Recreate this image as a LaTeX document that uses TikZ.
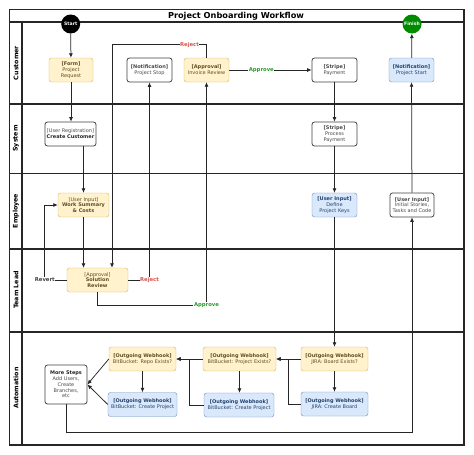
\documentclass[tikz,border=0pt]{standalone}
\usepackage{fontspec}
\setmainfont{DejaVu Sans}
\usetikzlibrary{arrows, arrows.meta}
\definecolor{ylwfill}{HTML}{FFF2CC}
\definecolor{ylwline}{HTML}{D6B656}
\definecolor{ylwtext}{HTML}{5E4E22}
\definecolor{bluefill}{HTML}{DAE8FC}
\definecolor{blueline}{HTML}{6C8EBF}
\definecolor{bluetext}{HTML}{23436F}
\definecolor{greytext}{HTML}{4A4A4A}
\definecolor{rejectred}{HTML}{D9534F}
\definecolor{approvegreen}{HTML}{2E9B2E}
\definecolor{finishgreen}{HTML}{008A00}

\begin{document}
\begin{tikzpicture}[x=1pt, y=-1pt,
		box/.style={rounded corners=2.5pt, align=center, inner sep=1pt, minimum height=24pt, font=\fontsize{5}{5.8}\selectfont},
		yellowbox/.style={box, fill=ylwfill, draw=ylwline, text=ylwtext, minimum width=44pt},
		bluebox/.style={box, fill=bluefill, draw=blueline, text=bluetext, minimum width=45pt},
		whitebox/.style={box, fill=white, draw=black!75, line width=0.8pt, text=greytext, minimum width=45pt},
		lane/.style={rotate=90, font=\fontsize{6.3}{7}\selectfont\bfseries},
		border/.style={line width=1.1pt, black!85},
		flow/.style={-{Latex[length=4.5pt, width=4pt]}, draw=black!85, line width=0.75pt},
		lbl/.style={fill=white, inner sep=0.6pt, font=\fontsize{5.3}{6}\selectfont\bfseries}]
		\useasboundingbox (0,0) rectangle (474,455);
		\draw[border] (9.5,9.5) rectangle (464,445);
		\draw[border] (9.5,22) -- (464,22);
		\draw[border] (22,22) -- (22,445);
		\foreach \y in {104,173.5,249,332}
			\draw[border] (9.5,\y) -- (464,\y);
		\node[font=\fontsize{8.2}{10}\selectfont\bfseries] (title) at (236,16) {Project Onboarding Workflow};
		\node[lane] (lcustomer) at (16,63) {Customer};
		\node[lane] (lsystem) at (16,138.5) {System};
		\node[lane] (lemployee) at (16,211) {Employee};
		\node[lane] (lteamlead) at (16,290) {Team Lead};
		\node[lane] (lautomation) at (16,388) {Automation};

		\node[circle, fill=black, minimum size=19pt, inner sep=0pt, text=white, font=\fontsize{4.6}{5}\selectfont\bfseries] (start) at (70.7,24) {Start};
		\node[circle, fill=finishgreen, minimum size=19pt, inner sep=0pt, text=white, font=\fontsize{4.6}{5}\selectfont\bfseries] (finish) at (412,24) {Finish};

		\node[yellowbox] (form) at (71,70) {\textbf{[Form]}\\Project\\Request};
		\node[whitebox] (projstop) at (149.5,70) {\textbf{[Notification]}\\Project Stop};
		\node[yellowbox, minimum width=45pt] (invoice) at (206.5,70) {\textbf{[Approval]}\\Invoice Review};
		\node[whitebox] (payment) at (334.5,70) {\textbf{[Stripe]}\\Payment};
		\node[bluebox] (projstart) at (411.5,70) {\textbf{[Notification]}\\Project Start};

		\node[whitebox, minimum width=51pt] (createcust) at (70.5,134) {[User Registration]\\\textbf{\color{black!85}Create Customer}};
		\node[whitebox] (procpay) at (334.5,134) {\textbf{[Stripe]}\\Process\\Payment};

		\node[yellowbox, minimum width=51pt] (worksum) at (83.5,205) {[User Input]\\\textbf{Work Summary}\\\textbf{\& Costs}};
		\node[bluebox] (defkeys) at (334.5,205) {\textbf{[User Input]}\\Define\\Project Keys};
		\node[whitebox, minimum width=44pt] (stories) at (412,205) {\textbf{[User Input]}\\Initial Stories,\\Tasks and Code};

		\node[yellowbox, minimum width=61pt] (solrev) at (97.5,280) {[Approval]\\\textbf{Solution}\\\textbf{Review}};

		\node[whitebox, minimum width=42pt, minimum height=39pt] (moresteps) at (66,384.5) {\textbf{\color{black!85}More Steps}\\Add Users,\\Create\\Branches,\\etc};
		\node[yellowbox, minimum width=67pt] (repoexists) at (142.5,359) {\textbf{[Outgoing Webhook]}\\BitBucket: Repo Exists?};
		\node[bluebox, minimum width=69pt] (bbcreate) at (142.5,404.5) {\textbf{[Outgoing Webhook]}\\BitBucket: Create Project};
		\node[yellowbox, minimum width=73pt] (projexists) at (239.5,359) {\textbf{[Outgoing Webhook]}\\BitBucket: Project Exists?};
		\node[bluebox, minimum width=70pt] (bbcreatetwo) at (239,405) {\textbf{[Outgoing Webhook]}\\BitBucket: Create Project};
		\node[yellowbox, minimum width=67pt] (boardexists) at (334.5,359) {\textbf{[Outgoing Webhook]}\\JIRA: Board Exists?};
		\node[bluebox, minimum width=67pt] (createboard) at (334.5,404) {\textbf{[Outgoing Webhook]}\\JIRA: Create Board};

		\draw[flow] (start) -- (form);
		\draw[flow] (form.south) -- (form.south |- createcust.north);
		\draw[flow] (createcust.south -| worksum.north) -- (worksum.north);
		\draw[flow] (worksum.south) -- (worksum.south |- solrev.north);
		\draw[flow] (solrev.west) -- ++(-22,0) node[lbl, text=black!75] {Revert} |- (worksum.west);
		\draw[flow] (solrev.east) -| node[lbl, text=rejectred, pos=0.5] {Reject} (projstop.south);
		\draw[flow] (solrev.south) -- ++(0,13) -| node[lbl, text=approvegreen, pos=0.5] {Approve} (invoice.south);
		\draw[flow] (invoice.north) -- ++(0,-13) -| node[lbl, text=rejectred, pos=0.09] {Reject} ([xshift=14.5pt]solrev.north);
		\draw[flow] (invoice) -- node[lbl, text=approvegreen, pos=0.39] {Approve} (payment);
		\draw[flow] (payment) -- (procpay);
		\draw[flow] (procpay) -- (defkeys);
		\draw[flow] (defkeys) -- (boardexists);
		\draw[flow] (boardexists) -- (createboard);
		\draw[flow] (boardexists) -- (projexists);
		\draw[flow] (createboard.west) -- ++(-12,0) |- (projexists.east);
		\draw[flow] (projexists.south) -- (projexists.south |- bbcreatetwo.north);
		\draw[flow] (projexists) -- (repoexists);
		\draw[flow] (bbcreatetwo.west) -- ++(-14,0) |- (repoexists.east);
		\draw[flow] (repoexists) -- (bbcreate);
		\draw[flow] (repoexists.west) -- (moresteps.east);
		\draw[flow] (bbcreate.west) -- (moresteps.east);
		\draw[flow] (moresteps.south) -- ++(0,27.5) -| (stories.south);
		\draw[flow] (stories) -- (projstart);
		\draw[flow] (projstart) -- (finish);
	\end{tikzpicture}
\end{document}
